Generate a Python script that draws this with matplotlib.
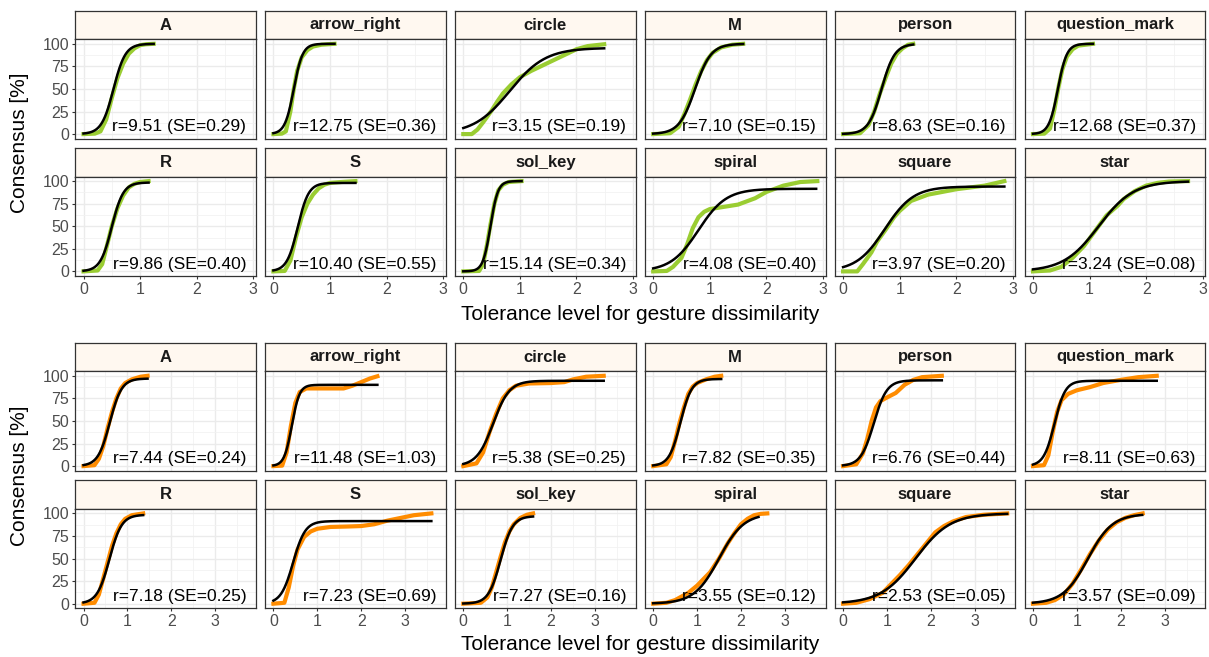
import numpy as np
import matplotlib
matplotlib.use("Agg")
import matplotlib.pyplot as plt

plt.rcParams['font.family'] = ['Liberation Sans', 'DejaVu Sans']

gestures = ["A", "arrow_right", "circle", "M", "person", "question_mark",
            "R", "S", "sol_key", "spiral", "square", "star"]

# ---- top block (green) ----
top_r = [9.51, 12.75, 3.15, 7.10, 8.63, 12.68, 9.86, 10.40, 15.14, 4.08, 3.97, 3.24]
top_se = [0.29, 0.36, 0.19, 0.15, 0.16, 0.37, 0.40, 0.55, 0.34, 0.40, 0.20, 0.08]
top_mid = [0.53, 0.36, 0.82, 0.74, 0.68, 0.44, 0.50, 0.43, 0.48, 0.80, 0.74, 1.16]
top_asym = [100, 100, 95.5, 100, 100, 100, 98.5, 98, 100, 91.5, 94, 100]
top_fit_end = [1.24, 1.08, 2.49, 1.59, 1.24, 1.06, 1.15, 1.45, 1.03, 2.88, 2.85, 2.74]
top_emp = {
    "A": ([0, 0.2, 0.3, 0.4, 0.5, 0.6, 0.7, 0.8, 0.9, 1.0, 1.1, 1.24],
          [0, 0.5, 3, 16, 40, 62, 78, 89, 95, 98.5, 99.5, 100]),
    "arrow_right": ([0, 0.15, 0.22, 0.3, 0.36, 0.42, 0.5, 0.6, 0.7, 0.85, 1.08],
                    [0, 0.5, 3, 25, 50, 70, 85, 93, 97, 99, 100]),
    "circle": ([0, 0.15, 0.25, 0.35, 0.5, 0.6, 0.7, 0.85, 1.0, 1.2, 1.4, 1.6, 1.8, 2.0, 2.2, 2.49],
               [0, 0, 5, 13, 26, 36, 45, 55, 63, 70, 76, 82, 88, 94, 97.5, 99.5]),
    "M": ([0, 0.3, 0.45, 0.55, 0.65, 0.75, 0.85, 0.95, 1.05, 1.2, 1.4, 1.59],
          [0, 1, 8, 22, 38, 55, 70, 82, 90, 96, 99, 100]),
    "person": ([0, 0.3, 0.45, 0.55, 0.65, 0.75, 0.85, 0.95, 1.05, 1.15, 1.24],
               [0, 1, 10, 25, 45, 62, 78, 89, 95, 99, 100]),
    "question_mark": ([0, 0.2, 0.3, 0.38, 0.45, 0.52, 0.6, 0.7, 0.8, 1.06],
                      [0, 0.5, 6, 28, 52, 72, 86, 94, 98, 100]),
    "R": ([0, 0.25, 0.33, 0.42, 0.5, 0.6, 0.7, 0.8, 0.9, 1.0, 1.15],
          [0, 1, 8, 30, 50, 70, 84, 93, 97, 99, 100]),
    "S": ([0, 0.2, 0.3, 0.4, 0.5, 0.6, 0.7, 0.8, 0.9, 1.0, 1.2, 1.45],
          [0, 0.5, 12, 38, 60, 75, 85, 92, 96, 98, 99, 100]),
    "sol_key": ([0, 0.28, 0.35, 0.42, 0.48, 0.55, 0.62, 0.7, 0.8, 1.03],
                [0, 0.5, 8, 30, 52, 75, 90, 96, 99, 100]),
    "spiral": ([0, 0.24, 0.35, 0.5, 0.6, 0.7, 0.8, 0.9, 1.0, 1.2, 1.5, 1.8, 2.0, 2.3, 2.6, 2.9],
               [0, 0.5, 5, 15, 30, 48, 60, 66, 69, 71, 74, 81, 88, 95, 99, 100]),
    "square": ([0, 0.25, 0.35, 0.5, 0.6, 0.75, 0.9, 1.0, 1.2, 1.5, 2.0, 2.5, 2.85],
               [0, 0, 8, 21, 33, 46, 60, 67, 78, 85, 91, 95, 100]),
    "star": ([0, 0.3, 0.5, 0.7, 0.9, 1.1, 1.3, 1.5, 1.6, 1.8, 2.0, 2.2, 2.4, 2.74],
             [0, 1, 5, 15, 28, 45, 62, 73, 80, 89, 95, 98, 99.5, 100]),
}

# ---- bottom block (orange) ----
bot_r = [7.44, 11.48, 5.38, 7.82, 6.76, 8.11, 7.18, 7.23, 7.27, 3.55, 2.53, 3.57]
bot_se = [0.24, 1.03, 0.25, 0.35, 0.44, 0.63, 0.25, 0.69, 0.16, 0.12, 0.05, 0.09]
bot_mid = [0.60, 0.42, 0.68, 0.62, 0.70, 0.49, 0.59, 0.45, 0.85, 1.50, 1.65, 1.25]
bot_asym = [97, 90, 94.5, 96.5, 95, 94.5, 98.5, 91.5, 97, 100, 100, 99.5]
bot_fit_end = [1.46, 2.37, 3.2, 1.55, 2.25, 2.82, 1.36, 3.6, 1.59, 2.4, 3.74, 2.49]
bot_emp = {
    "A": ([0, 0.25, 0.35, 0.45, 0.55, 0.65, 0.75, 0.85, 0.95, 1.1, 1.3, 1.46],
          [0, 1, 8, 22, 42, 60, 75, 86, 92, 96, 99, 100]),
    "arrow_right": ([0, 0.2, 0.3, 0.4, 0.5, 0.6, 0.75, 1.0, 1.3, 1.6, 1.8, 2.0, 2.2, 2.37],
                    [0, 0.5, 15, 45, 70, 82, 86, 86, 86, 86, 89, 93, 97, 99.5]),
    "circle": ([0, 0.3, 0.45, 0.6, 0.75, 0.9, 1.05, 1.2, 1.5, 2.0, 2.3, 2.5, 2.8, 3.2],
               [0, 3, 15, 38, 58, 75, 84, 89, 91.5, 92, 93, 96, 99, 100]),
    "M": ([0, 0.3, 0.4, 0.5, 0.6, 0.7, 0.8, 0.9, 1.0, 1.2, 1.4, 1.55],
          [0, 2, 10, 28, 48, 65, 80, 88, 92, 96, 99, 100]),
    "person": ([0, 0.3, 0.45, 0.55, 0.65, 0.75, 0.85, 1.0, 1.2, 1.4, 1.6, 1.8, 2.25],
               [0, 2, 14, 30, 50, 65, 72, 76, 81, 90, 95.5, 98.5, 100]),
    "question_mark": ([0, 0.25, 0.35, 0.45, 0.55, 0.65, 0.8, 1.0, 1.3, 1.6, 2.0, 2.4, 2.82],
                      [0, 1, 12, 38, 60, 73, 80, 84, 87.5, 92, 95.5, 98.5, 100]),
    "R": ([0, 0.25, 0.35, 0.45, 0.55, 0.65, 0.75, 0.85, 0.95, 1.1, 1.36],
          [0, 1, 10, 28, 46, 64, 78, 88, 94, 98, 100]),
    "S": ([0, 0.25, 0.35, 0.45, 0.55, 0.7, 0.85, 1.0, 1.3, 1.7, 2.0, 2.3, 2.6, 2.9, 3.2, 3.6],
          [0, 1, 18, 42, 60, 74, 80, 83, 85, 85.5, 86, 88, 92, 95, 98, 100]),
    "sol_key": ([0, 0.4, 0.55, 0.65, 0.75, 0.85, 0.95, 1.05, 1.15, 1.3, 1.45, 1.59],
                [0, 1, 7, 18, 35, 52, 68, 80, 88, 95, 98.5, 100]),
    "spiral": ([0, 0.3, 0.5, 0.8, 1.0, 1.1, 1.3, 1.5, 1.7, 1.85, 2.0, 2.15, 2.3, 2.45, 2.6],
               [0, 1, 4, 12, 20, 25, 35, 50, 67, 78, 88, 94, 98, 99.5, 100]),
    "square": ([0, 0.3, 0.6, 0.9, 1.1, 1.3, 1.5, 1.7, 1.9, 2.1, 2.3, 2.5, 2.8, 3.2, 3.74],
               [0, 1, 5, 12, 22, 32, 43, 55, 67, 79, 86, 91, 96, 98.5, 100]),
    "star": ([0, 0.3, 0.5, 0.7, 0.9, 1.1, 1.3, 1.5, 1.7, 1.9, 2.1, 2.3, 2.5],
             [0, 1, 4, 10, 22, 38, 55, 70, 82, 90, 95, 98, 100]),
}

blocks = [
    dict(r=top_r, se=top_se, mid=top_mid, asym=top_asym, fit_end=top_fit_end, emp=top_emp,
         color="#9ACD32", xlim=(-0.145, 3.045), xticks=[0, 1, 2, 3], xminor=[0.5, 1.5, 2.5],
         strip_tops=[10.7, 148.0], xlab_y=314, ylab_y=143),
    dict(r=bot_r, se=bot_se, mid=bot_mid, asym=bot_asym, fit_end=bot_fit_end, emp=bot_emp,
         color="#FF8C00", xlim=(-0.187, 3.927), xticks=[0, 1, 2, 3], xminor=[0.5, 1.5, 2.5, 3.5],
         strip_tops=[342.7, 480.3], xlab_y=645, ylab_y=476),
]

W, H = 1209, 657
col_left = [75.3 + i * 189.9 for i in range(6)]
panel_w = 180.5
strip_h = 28.6
panel_h = 99.3
edge = "#333333"

fig = plt.figure(figsize=(W / 100, H / 100), dpi=100)


def px_axes(left, top, width, height):
    return fig.add_axes([left / W, 1 - (top + height) / H, width / W, height / H])


for blk in blocks:
    for row in range(2):
        for col in range(6):
            i = row * 6 + col
            g = gestures[i]
            stop = blk["strip_tops"][row]

            # strip
            sax = px_axes(col_left[col], stop, panel_w, strip_h)
            sax.set_facecolor("#FFF8F0")
            sax.set_xticks([])
            sax.set_yticks([])
            for sp in sax.spines.values():
                sp.set_color(edge)
                sp.set_linewidth(0.9)
            sax.text(0.5, 0.5, g, transform=sax.transAxes, ha="center", va="center",
                     fontsize=12, fontweight="bold", color="#1A1A1A")

            # panel
            ax = px_axes(col_left[col], stop + strip_h, panel_w, panel_h)
            ax.set_xlim(*blk["xlim"])
            ax.set_ylim(-5, 105)
            ax.set_xticks(blk["xticks"])
            ax.set_xticks(blk["xminor"], minor=True)
            ax.set_yticks([0, 25, 50, 75, 100])
            ax.set_yticks([12.5, 37.5, 62.5, 87.5], minor=True)
            ax.grid(which="major", color="#EBEBEB", linewidth=1.0)
            ax.grid(which="minor", color="#F2F2F2", linewidth=0.6)
            ax.set_axisbelow(True)
            for sp in ax.spines.values():
                sp.set_color(edge)
                sp.set_linewidth(0.9)
            ax.tick_params(which="major", length=2.5, width=0.8, color=edge,
                           labelsize=11.5, labelcolor="#4D4D4D", pad=2)
            ax.tick_params(which="minor", length=0)
            if col != 0:
                ax.tick_params(axis="y", length=0, labelleft=False)
            if row != 1:
                ax.tick_params(axis="x", length=0, labelbottom=False)

            ex, ey = blk["emp"][g]
            ax.plot(ex, ey, color=blk["color"], linewidth=3.0, solid_joinstyle="round", zorder=2)

            xs = np.linspace(0, blk["fit_end"][i], 200)
            fit = blk["asym"][i] / (1 + np.exp(-blk["r"][i] * (xs - blk["mid"][i])))
            ax.plot(xs, fit, color="black", linewidth=1.8, zorder=3)

            ax.text(0.947, 0.117, f"r={blk['r'][i]:.2f} (SE={blk['se'][i]:.2f})",
                    transform=ax.transAxes, ha="right", va="center", fontsize=12.5,
                    color="black", zorder=4)

    fig.text(640 / W, 1 - blk["xlab_y"] / H, "Tolerance level for gesture dissimilarity",
             ha="center", va="center", fontsize=15, color="black")
    fig.text(20 / W, 1 - blk["ylab_y"] / H, "Consensus [%]", rotation=90,
             ha="center", va="center", fontsize=15, color="black")

fig.savefig("out.png", dpi=100)
